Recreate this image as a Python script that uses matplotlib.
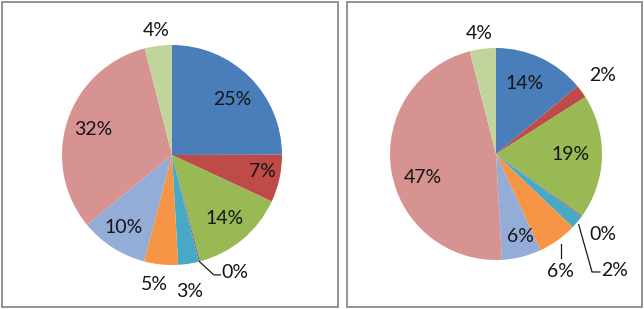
import numpy as np
import matplotlib
matplotlib.use("Agg")
import matplotlib.pyplot as plt
from matplotlib.patches import Rectangle

# ---- data ----
categories = ["A", "B", "C", "D", "E", "F", "G", "H", "I"]
left_values = [25, 7, 14, 0.2, 3, 5, 10, 32, 4]
left_labels = ["25%", "7%", "14%", "0%", "3%", "5%", "10%", "32%", "4%"]
right_values = [14, 2, 19, 0.2, 2, 6, 6, 47, 4]
right_labels = ["14%", "2%", "19%", "0%", "2%", "6%", "6%", "47%", "4%"]

colors = ["#4A7EBB", "#BE4B48", "#98B954", "#7D60A0", "#46AAC5",
          "#F69546", "#93ADD8", "#D79391", "#C0D49B"]

W, H = 644, 309
fig = plt.figure(figsize=(W / 100, H / 100), dpi=100)
fig.patch.set_facecolor("white")

FONT = dict(family=["Lato", "DejaVu Sans"], size=14, color="#151515")


def pie_axes(cx, cy, R):
    ax = fig.add_axes([(cx - R) / W, (H - (cy + R)) / H, 2 * R / W, 2 * R / H])
    return ax


def draw(ax, values, labels, lbl_r, lbl_d, leaders):
    wedges, _ = ax.pie(values, colors=colors, startangle=90, counterclock=False,
                       radius=1, wedgeprops=dict(linewidth=0))
    ax.set_xlim(-1, 1)
    ax.set_ylim(-1, 1)
    ax.axis("off")
    for i, w in enumerate(wedges):
        mid = np.deg2rad((w.theta1 + w.theta2) / 2 + lbl_d[i])
        if i in leaders:
            pts, tx, ty, ha = leaders[i]
            xs = [p[0] for p in pts]
            ys = [p[1] for p in pts]
            ax.plot(xs, ys, color="#1a1a1a", lw=0.9, clip_on=False)
            ax.text(tx, ty, labels[i], ha=ha, va="center", clip_on=False, **FONT)
            continue
        r = lbl_r[i]
        ax.text(r * np.cos(mid), r * np.sin(mid), labels[i], ha="center",
                va="center", clip_on=False, **FONT)


# left pie
axL = pie_axes(172, 155, 110)
left_r = [0.74, 0.833, 0.747, 1.2, 1.247, 1.19, 0.787, 0.753, 1.144]
left_d = [-2.5, 1.9, 0, 0, -1.4, -2, -1, 0, 0]
a0 = np.deg2rad(-75.6)
left_leaders = {
    3: ([(np.cos(a0), np.sin(a0)), (0.38, -1.09), (0.44, -1.09)], 0.45, -1.07, "left"),
}
draw(axL, left_values, left_labels, left_r, left_d, left_leaders)

# right pie
axR = pie_axes(496, 154, 106)
right_r = [0.715, 1.25, 0.70, 1.26, 1.2, 1.27, 0.81, 0.725, 1.151]
right_d = [2.7, 0, 1, -0.8, 0, 0, 2.6, 9, 0.8]
a4 = np.deg2rad(-39.6)
right_leaders = {
    4: ([(np.cos(a4) + 0.01, np.sin(a4) - 0.03), (0.906, -1.113), (0.98, -1.113)],
        0.995, -1.10, "left"),
    5: ([(0.613, -0.85), (0.613, -0.98)], 0.604, -1.113, "center"),
}
draw(axR, right_values, right_labels, right_r, right_d, right_leaders)

# panel borders
for x0, x1 in [(2, 338), (347, 642)]:
    fig.add_artist(Rectangle((x0 / W, 2 / H), (x1 - x0) / W, (307 - 2) / H,
                             transform=fig.transFigure, fill=False,
                             ec="#8a8a8a", lw=1.3))

fig.savefig("out.png", dpi=100)
